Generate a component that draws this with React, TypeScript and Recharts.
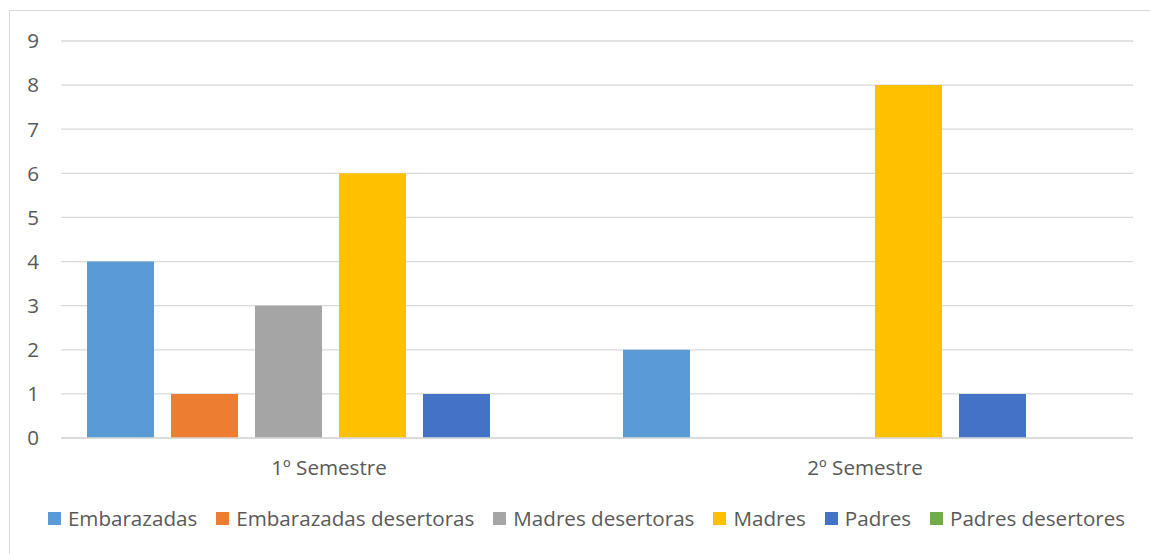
import { BarChart, Bar, XAxis, YAxis, CartesianGrid } from "recharts";

const categories = ["1º Semestre", "2º Semestre"];
const embarazadas = [4, 2];
const embarazadasDesertoras = [1, 0];
const madresDesertoras = [3, 0];
const madres = [6, 8];
const padres = [1, 1];
const padresDesertores = [0, 0];
const yTicks = [0, 1, 2, 3, 4, 5, 6, 7, 8, 9];

const series = [
  { key: "embarazadas", name: "Embarazadas", values: embarazadas, fill: "#5B9BD5" },
  { key: "embarazadasDesertoras", name: "Embarazadas desertoras", values: embarazadasDesertoras, fill: "#ED7D31" },
  { key: "madresDesertoras", name: "Madres desertoras", values: madresDesertoras, fill: "#A5A5A5" },
  { key: "madres", name: "Madres", values: madres, fill: "#FFC000" },
  { key: "padres", name: "Padres", values: padres, fill: "#4472C4" },
  { key: "padresDesertores", name: "Padres desertores", values: padresDesertores, fill: "#70AD47" },
];

const data = categories.map((c, i) => {
  const row: Record<string, string | number> = { category: c };
  series.forEach((s) => {
    row[s.key] = s.values[i];
  });
  return row;
});

const FONT = "'Open Sans', sans-serif";
const TEXT = "#595959";
const SIZE = 20.6;

export default function App() {
  return (
    <div style={{ position: "absolute", left: 0, top: 0, width: 1150, height: 554, background: "#fff", fontFamily: FONT, overflow: "hidden" }}>
      <div style={{ position: "absolute", left: 9, top: 10, width: 1160, height: 600, border: "1px solid #D9D9D9" }} />
      <div style={{ position: "absolute", left: 0, top: 0 }}>
        <BarChart
          width={1150}
          height={554}
          data={data}
          margin={{ top: 41, right: 17, bottom: 76, left: 0 }}
          barCategoryGap={26}
          barGap={17}
        >
          <CartesianGrid vertical={false} stroke="#D9D9D9" strokeWidth={1.3} />
          <XAxis
            dataKey="category"
            height={40}
            axisLine={{ stroke: "#D9D9D9", strokeWidth: 1.3 }}
            tickLine={false}
            tickSize={0}
            tickMargin={22}
            tick={{ fill: TEXT, fontSize: SIZE, fontFamily: FONT }}
          />
          <YAxis
            width={61}
            domain={[0, 9]}
            ticks={yTicks}
            axisLine={false}
            tickLine={false}
            tickSize={0}
            tickMargin={22}
            tick={{ fill: TEXT, fontSize: SIZE, fontFamily: FONT }}
          />
          {series.map((s) => (
            <Bar key={s.key} dataKey={s.key} name={s.name} fill={s.fill} isAnimationActive={false} />
          ))}
        </BarChart>
      </div>
      <div
        style={{
          position: "absolute",
          left: 0,
          width: 1173,
          top: 504,
          display: "flex",
          justifyContent: "center",
          alignItems: "center",
          gap: 19,
          color: TEXT,
          fontSize: SIZE,
        }}
      >
        {series.map((s) => (
          <div key={s.key} style={{ display: "flex", alignItems: "center", whiteSpace: "nowrap" }}>
            <span style={{ display: "inline-block", width: 13, height: 13, background: s.fill, marginRight: 7 }} />
            <span>{s.name}</span>
          </div>
        ))}
      </div>
    </div>
  );
}
